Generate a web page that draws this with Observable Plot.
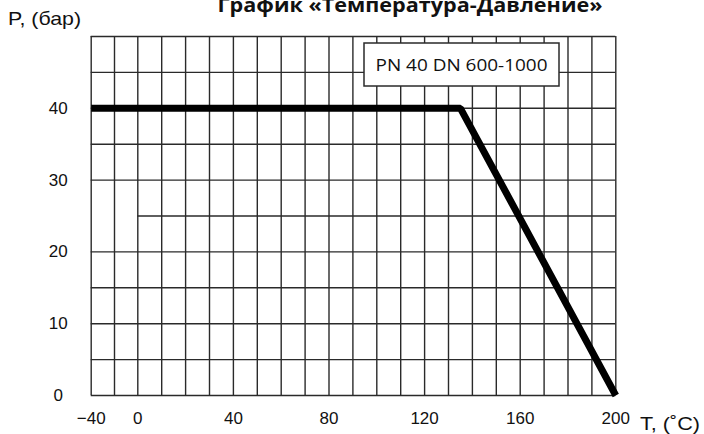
<!DOCTYPE html>
<html><head><meta charset="utf-8">
<script src="https://cdn.jsdelivr.net/npm/d3@7"></script>
<script src="https://cdn.jsdelivr.net/npm/@observablehq/plot@0.6"></script>
<style>
body{margin:0;background:#fff}
#chart{position:relative;width:704px;height:434px;overflow:hidden}
</style>
</head><body><div id="chart"></div>
<script>
// Data
const temperature = [-40, 135, 200];
const pressure = [40, 40, 0];
// Grid
const xGrid = [-40, -20, 0, 10, 20, 30, 40, 50, 60, 70, 80, 90, 100, 110, 120, 130, 140, 150, 160, 170, 180, 190, 200];
const yGrid = [0, 5, 10, 15, 20, 30, 35, 40, 45, 50];
const yGridPartial = [25];
// Ticks
const xTickValues = [-40, 0, 40, 80, 120, 160, 200];
const xTickLabels = ["\u221240", "0", "40", "80", "120", "160", "200"];
const yTickValues = [0, 10, 20, 30, 40];
const yTickLabels = ["0", "10", "20", "30", "40"];
// Texts
const titleText = "График «Температура-Давление»";
const yLabelText = "P, (бар)";
const xLabelText = "T, (˚C)";
const legendText = "PN 40 DN 600-1000";

const W = 704, H = 434;
const mL = 90.7, mR = W - 615.3, mT = 36, mB = H - 395;
const zeroPx = 137.3;

const rows = temperature.map((t, i) => ({t, p: pressure[i]}));
const gridStyle = {stroke: "#2a2a2a", strokeWidth: 1.4};
const font = "Liberation Sans, Arial, sans-serif";

const plot = Plot.plot({
  width: W, height: H,
  marginLeft: mL, marginRight: mR, marginTop: mT, marginBottom: mB,
  style: {fontFamily: font, background: "#fff", overflow: "visible"},
  x: {type: "linear", domain: [-40, 0, 200], range: [mL, zeroPx, W - mR], axis: null},
  y: {domain: [0, 50], range: [H - mB, mT], axis: null},
  marks: [
    Plot.ruleX(xGrid, {x: d => d, y1: 0, y2: 50, ...gridStyle}),
    Plot.ruleY(yGrid, {y: d => d, x1: -40, x2: 200, ...gridStyle}),
    Plot.ruleY(yGridPartial, {y: d => d, x1: 0, x2: 200, ...gridStyle}),
    Plot.line(rows, {x: "t", y: "p", stroke: "#000", strokeWidth: 7, strokeLinejoin: "miter", strokeLinecap: "butt"}),
    Plot.text(xTickValues, {x: d => d, frameAnchor: "bottom", dy: 28, text: (d, i) => xTickLabels[i], fontSize: 17, fill: "#111"}),
    Plot.text(yTickValues, {y: d => d, frameAnchor: "left", dx: -33, textAnchor: "middle", text: (d, i) => yTickLabels[i], fontSize: 17, fill: "#111"})
  ]
});

const svg = d3.select(plot);
svg.append("text").attr("x", 410).attr("y", 12).attr("text-anchor", "middle")
  .attr("font-family", "Open Sans, sans-serif").attr("font-weight", 700).attr("font-size", 20)
  .attr("textLength", 385).attr("lengthAdjust", "spacingAndGlyphs").attr("fill", "#111").text(titleText);
svg.append("text").attr("x", 8).attr("y", 25).attr("text-anchor", "start")
  .attr("font-family", font).attr("font-size", 19)
  .attr("textLength", 73).attr("lengthAdjust", "spacingAndGlyphs").attr("fill", "#111").text(yLabelText);
svg.append("text").attr("x", 640).attr("y", 430).attr("text-anchor", "start")
  .attr("font-family", font).attr("font-size", 18)
  .attr("textLength", 60).attr("lengthAdjust", "spacingAndGlyphs").attr("fill", "#111").text(xLabelText);
svg.append("rect").attr("x", 364).attr("y", 43).attr("width", 195).attr("height", 43)
  .attr("fill", "#fff").attr("stroke", "#2a2a2a").attr("stroke-width", 1.5);
svg.append("text").attr("x", 461.5).attr("y", 70.5).attr("text-anchor", "middle")
  .attr("font-family", "Open Sans, sans-serif").attr("font-size", 17)
  .attr("textLength", 172).attr("lengthAdjust", "spacingAndGlyphs").attr("fill", "#111").text(legendText);

document.getElementById("chart").appendChild(plot);
</script>
</body></html>
